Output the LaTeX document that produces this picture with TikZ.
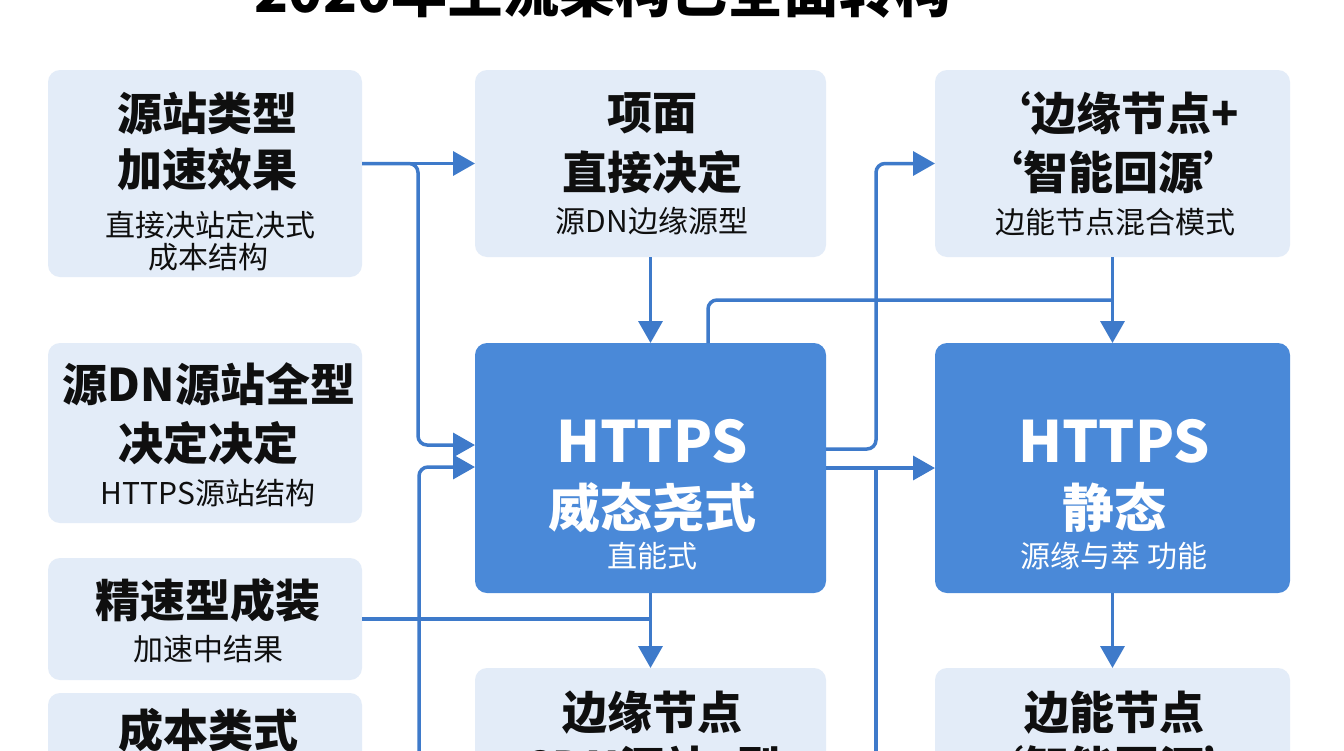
\documentclass[tikz,border=0pt]{standalone}
\usepackage{fontspec}
\setmainfont{Noto Sans CJK SC}[BoldFont={Noto Sans CJK SC Black}]
\usetikzlibrary{arrows.meta}
\definecolor{lightbox}{RGB}{227,236,248}
\definecolor{darkbox}{RGB}{74,137,216}
\definecolor{linec}{RGB}{62,122,202}
\definecolor{txt}{RGB}{15,15,15}
\tikzset{
  lbox/.style={fill=lightbox, rounded corners=12pt, draw=none, inner sep=0pt, outer sep=0pt},
  dbox/.style={fill=darkbox, rounded corners=12pt, draw=none, inner sep=0pt, outer sep=0pt},
  conn/.style={draw=linec, line width=3.5pt, rounded corners=9pt},
  arr/.style={conn, -{Triangle[length=22pt,width=24pt]}},
  hd/.style={font=\fontsize{45}{50}\selectfont\bfseries, text=txt, anchor=base, inner sep=0pt},
  sb/.style={font=\fontsize{30}{34}\selectfont, text=txt, anchor=base, inner sep=0pt},
  bighd/.style={font=\fontsize{57}{60}\selectfont\bfseries, text=white, anchor=base, inner sep=0pt},
  dhd/.style={font=\fontsize{52}{56}\selectfont\bfseries, text=white, anchor=base, inner sep=0pt},
  dsb/.style={font=\fontsize{30}{34}\selectfont, text=white, anchor=base, inner sep=0pt},
  ttl/.style={font=\fontsize{56}{60}\selectfont\bfseries, text=black, anchor=base, inner sep=0pt},
}
\begin{document}
\begin{tikzpicture}[x=1pt,y=-1pt]
\useasboundingbox (0,0) rectangle (1344,750);
\clip (0,0) rectangle (1344,750);
\fill[white] (0,0) rectangle (1344,750);

% title (cut off at top)
\node[ttl] (title) at (603,12) {2020年主流架构已全面转构};

% boxes
\node[lbox, minimum width=314pt, minimum height=207pt] (L1) at (205,173.5) {};
\node[lbox, minimum width=314pt, minimum height=180pt] (L2) at (205,433) {};
\node[lbox, minimum width=314pt, minimum height=122pt] (L3) at (205,619) {};
\node[lbox, minimum width=314pt, minimum height=137pt] (L4) at (205,761.5) {};
\node[lbox, minimum width=351pt, minimum height=187pt] (M1) at (650.5,163.5) {};
\node[dbox, minimum width=351pt, minimum height=250pt] (M2) at (650.5,468) {};
\node[lbox, minimum width=351pt, minimum height=162pt] (M3) at (650.5,749) {};
\node[lbox, minimum width=355pt, minimum height=187pt] (R1) at (1112.5,163.5) {};
\node[dbox, minimum width=355pt, minimum height=250pt] (R2) at (1112.5,468) {};
\node[lbox, minimum width=355pt, minimum height=162pt] (R3) at (1112.5,749) {};

% texts
\node[hd] (l1a) at (207,130) {源站类型};
\node[hd] (l1b) at (207,186) {加速效果};
\node[sb] (l1c) at (210,236) {直接决站定决式};
\node[sb] (l1d) at (208,268) {成本结构};

\node[hd] (l2a) at (209,401) {源DN源站全型};
\node[hd] (l2b) at (208,460) {决定决定};
\node[sb] (l2c) at (208,504) {HTTPS源站结构};

\node[hd] (l3a) at (208,617) {精速型成装};
\node[sb] (l3b) at (208,660) {加速中结果};

\node[hd] (l4a) at (208,747) {成本类式};

\node[hd] (m1a) at (652,129) {项面};
\node[hd] (m1b) at (652,189) {直接决定};
\node[sb] (m1c) at (652,232) {源DN边缘源型};

\node[bighd] (m2a) at (652,462) {HTTPS};
\node[dhd] (m2b) at (652,527) {威态尧式};
\node[dsb] (m2c) at (652,567) {直能式};

\node[hd] (m3a) at (652,729) {边缘节点};
\node[hd] (m3b) at (652,784) {CDN源站+型};

\node[hd] (r1a) at (1113,130) {‘边缘节点+};
\node[hd] (r1b) at (1113,189) {‘智能回源’};
\node[sb] (r1c) at (1115,233) {边能节点混合模式};

\node[bighd] (r2a) at (1114,462) {HTTPS};
\node[dhd] (r2b) at (1114,527) {静态};
\node[dsb] (r2c) at (1114,567) {源缘与萃 功能};

\node[hd] (r3a) at (1114,729) {边能节点};
\node[hd] (r3b) at (1114,784) {‘智能回源’};

% bend coordinates
\coordinate (jL) at (418,163.5);
\coordinate (bL1) at (418,445);
\coordinate (bL2) at (419,467);
\coordinate (botL) at (419,770);
\coordinate (tM) at (708,300);
\coordinate (rU) at (876,449);
\coordinate (rT) at (876,163.5);
\coordinate (botR) at (876,770);

% connectors
\draw[arr] (L1.east |- M1.west) -- (M1.west);
\draw[arr] (L1.east |- M1.west) -- (jL) -- (bL1) -- (M2.west |- bL1);
\draw[arr] (botL) -- (bL2) -- (M2.west |- bL2);
\draw[arr] (M1.south) -- (M2.north);
\draw[arr] (M2.south) -- (M3.north);
\draw[conn] (L3.east) -- (L3.east -| M2.south);
\draw[conn] (M2.north -| tM) -- (tM) -- (R1.south |- tM);
\draw[arr] (R1.south) -- (R2.north);
\draw[arr] (M2.east |- rU) -- (rU) -- (rT) -- (R1.west);
\draw[arr] (M2.east) -- (R2.west);
\draw[conn] (M2.east -| botR) -- (botR);
\draw[arr] (R2.south) -- (R3.north);
\end{tikzpicture}
\end{document}
